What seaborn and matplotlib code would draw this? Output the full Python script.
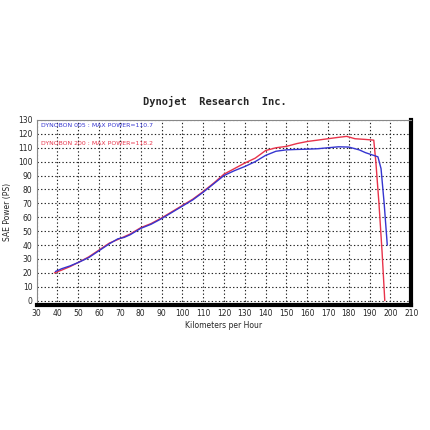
import matplotlib
matplotlib.use('Agg')
import matplotlib.pyplot as plt
import seaborn as sns

# --- dados ---
SPEED_005 = [39, 42, 46, 50, 55, 60, 65, 69, 72, 75, 80, 85, 90, 95, 100, 105, 110, 115, 120,
             125, 130, 135, 140, 145, 150, 155, 160, 165, 170, 175, 180, 185, 188, 192, 194,
             195.5, 197, 198.5]
POWER_005 = [21, 23, 25, 27.5, 31, 36, 41, 44.5, 45.5, 47.5, 52, 55, 59, 63.5, 68, 72.5, 78, 84, 90,
             93.5, 96.5, 100, 104.5, 107.5, 108.5, 108.8, 109, 109.3, 110, 110.7, 110.5, 108.5, 106.5,
             104.5, 103.5, 95, 70, 40]

SPEED_200 = [38.5, 42, 46, 50, 55, 60, 65, 69, 72, 75, 80, 85, 90, 95, 100, 105, 110, 115, 120,
             125, 130, 135, 140, 145, 150, 155, 160, 165, 170, 175, 179, 183, 188, 192, 193,
             194.5, 196, 197.3]
POWER_200 = [20, 22, 24.5, 27.5, 31.5, 36.5, 41.5, 44, 46, 48, 52.5, 55.5, 59.5, 64, 68.5, 73, 78.5,
             84.5, 91, 95, 99, 102.5, 108, 110, 111, 113, 114.5, 115.5, 116.5, 117.5, 118.2, 116.5,
             116, 115.5, 100, 70, 35, 0]

LABEL_005 = 'DYNOBON 005 : MAX POWER=110.7'
LABEL_200 = 'DYNOBON 200 : MAX POWER=118.2'
X_TICKS = list(range(30, 211, 10))
Y_TICKS = list(range(0, 131, 10))

BLUE = '#3535d0'
RED = '#e8334a'

sns.set_style('white')
plt.rcParams['font.family'] = ['DejaVu Sans']

fig = plt.figure(figsize=(4.3, 4.3), dpi=100)
ax = fig.add_axes([0.0853, 0.291, 0.871, 0.430])

sns.lineplot(x=SPEED_200, y=POWER_200, ax=ax, color=RED, linewidth=1.0,
             estimator=None, sort=False)
sns.lineplot(x=SPEED_005, y=POWER_005, ax=ax, color=BLUE, linewidth=1.0,
             estimator=None, sort=False)

ax.set_xlim(30, 210)
ax.set_ylim(-3, 130)
ax.set_xticks(X_TICKS)
ax.set_yticks(Y_TICKS)
ax.tick_params(axis='both', labelsize=5.5, length=0, pad=3)
ax.grid(True, color='#222222', linestyle=(0, (1.2, 2)), linewidth=0.8)

# moldura: base e lado direito grossos
for s in ['left', 'top']:
    ax.spines[s].set_color('#888888')
    ax.spines[s].set_linewidth(0.8)
for s in ['bottom', 'right']:
    ax.spines[s].set_color('black')
    ax.spines[s].set_linewidth(3.0)

ax.set_xlabel('Kilometers per Hour', fontsize=5.5)
ax.xaxis.set_label_coords(0.5, -0.085)
ax.set_ylabel('SAE Power (PS)', fontsize=5.5)
ax.yaxis.set_label_coords(-0.067, 0.5)

ax.text(0.012, 0.985, LABEL_005, transform=ax.transAxes, color=BLUE,
        fontsize=4.4, va='top', ha='left')
ax.text(0.012, 0.885, LABEL_200, transform=ax.transAxes, color=RED,
        fontsize=4.4, va='top', ha='left')

fig.text(0.5, 0.765, 'Dynojet  Research  Inc.', ha='center', va='center',
         fontsize=7.5, family='DejaVu Sans Mono', fontweight='bold')

fig.savefig('out.png', dpi=100, facecolor='white')
